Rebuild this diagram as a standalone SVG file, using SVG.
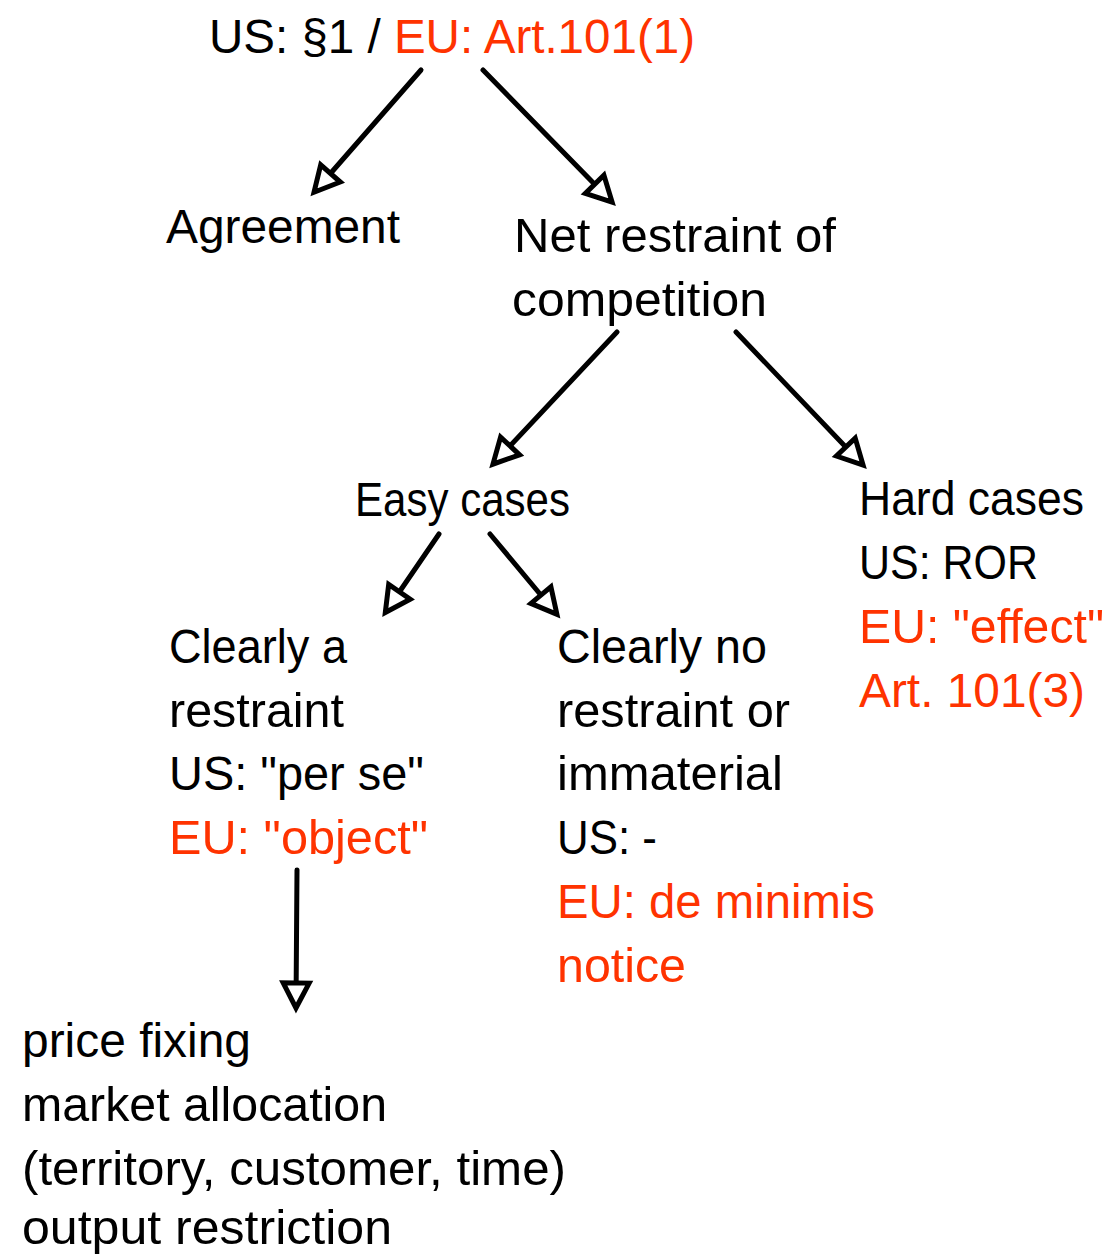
<svg xmlns="http://www.w3.org/2000/svg" width="1108" height="1254" viewBox="0 0 1108 1254">
<style>
text{font-family:"Liberation Sans",Arial,sans-serif;font-size:48px;fill:#000}
.r{fill:#ff3300}
.c{stroke:#000;stroke-width:5;stroke-linecap:round;fill:none;marker-end:url(#ah)}
</style>
<defs>
<marker id="ah" markerUnits="userSpaceOnUse" viewBox="-6 -6 42 38" markerWidth="42" markerHeight="38" refX="22" refY="13" orient="auto">
<path d="M0,0 L25,13 L0,26 Z" fill="#fff" stroke="#000" stroke-width="5" stroke-linejoin="miter"/>
</marker>
</defs>
<rect width="1108" height="1254" fill="#fff"/>
<g id="connectors">
<line class="c" x1="421" y1="70" x2="316" y2="190"/>
<line class="c" x1="483" y1="70" x2="610" y2="200"/>
<line class="c" x1="617" y1="332" x2="495" y2="462"/>
<line class="c" x1="736" y1="332" x2="861" y2="463"/>
<line class="c" x1="439" y1="534" x2="387" y2="610"/>
<line class="c" x1="490" y1="534" x2="555" y2="612"/>
<line class="c" x1="297" y1="870" x2="296" y2="1005"/>
</g>
<g id="root"><text x="209" y="53" textLength="486" lengthAdjust="spacingAndGlyphs">US: §1 / <tspan class="r">EU: Art.101(1)</tspan></text></g>
<g id="agreement"><text x="166" y="243" textLength="234" lengthAdjust="spacingAndGlyphs">Agreement</text></g>
<g id="net"><text x="514" y="252" textLength="322" lengthAdjust="spacingAndGlyphs">Net restraint of</text><text x="512" y="316" textLength="255" lengthAdjust="spacingAndGlyphs">competition</text></g>
<g id="easy"><text x="355" y="516" textLength="215" lengthAdjust="spacingAndGlyphs">Easy cases</text></g>
<g id="hard"><text x="859" y="515" textLength="225" lengthAdjust="spacingAndGlyphs">Hard cases</text><text x="859" y="579" textLength="179" lengthAdjust="spacingAndGlyphs">US: ROR</text><text class="r" x="859" y="643" textLength="245" lengthAdjust="spacingAndGlyphs">EU: "effect"</text><text class="r" x="859" y="707" textLength="226" lengthAdjust="spacingAndGlyphs">Art. 101(3)</text></g>
<g id="clearly-a"><text x="169" y="663" textLength="178" lengthAdjust="spacingAndGlyphs">Clearly a</text><text x="169" y="727" textLength="175" lengthAdjust="spacingAndGlyphs">restraint</text><text x="169" y="790" textLength="255" lengthAdjust="spacingAndGlyphs">US: "per se"</text><text class="r" x="169" y="854" textLength="259" lengthAdjust="spacingAndGlyphs">EU: "object"</text></g>
<g id="clearly-no"><text x="557" y="663" textLength="210" lengthAdjust="spacingAndGlyphs">Clearly no</text><text x="557" y="727" textLength="233" lengthAdjust="spacingAndGlyphs">restraint or</text><text x="557" y="790" textLength="226" lengthAdjust="spacingAndGlyphs">immaterial</text><text x="557" y="854" textLength="100" lengthAdjust="spacingAndGlyphs">US: -</text><text class="r" x="557" y="918" textLength="318" lengthAdjust="spacingAndGlyphs">EU: de minimis</text><text class="r" x="557" y="982" textLength="129" lengthAdjust="spacingAndGlyphs">notice</text></g>
<g id="examples"><text x="22" y="1057" textLength="229" lengthAdjust="spacingAndGlyphs">price fixing</text><text x="22" y="1121" textLength="365" lengthAdjust="spacingAndGlyphs">market allocation</text><text x="22" y="1185" textLength="544" lengthAdjust="spacingAndGlyphs">(territory, customer, time)</text><text x="22" y="1244" textLength="370" lengthAdjust="spacingAndGlyphs">output restriction</text></g>
</svg>
